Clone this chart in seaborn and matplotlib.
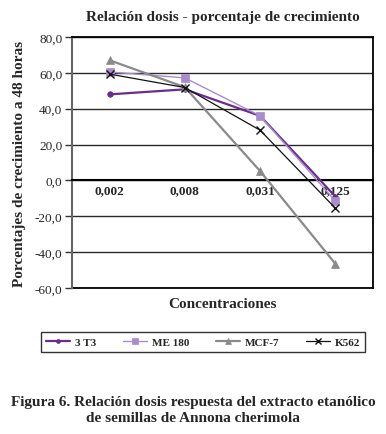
import matplotlib
matplotlib.use("Agg")
import matplotlib.pyplot as plt
import seaborn as sns
import pandas as pd
import numpy as np

categories = ["0,002", "0,008", "0,031", "0,125"]
series_names = ["3 T3", "ME 180", "MCF-7", "K562"]
v_3t3 = [48.0, 50.8, 36.0, -9.0]
v_me180 = [60.5, 57.2, 36.0, -11.5]
v_mcf7 = [67.0, 52.0, 5.2, -46.5]
v_k562 = [59.3, 51.8, 28.0, -15.5]
y_ticks = [80, 60, 40, 20, 0, -20, -40, -60]

sns.set_theme(style="white")
plt.rcParams['font.family'] = ['Liberation Serif', 'DejaVu Serif']

rows = []
for name, vals in zip(series_names, [v_3t3, v_me180, v_mcf7, v_k562]):
    for i, (c, v) in enumerate(zip(categories, vals)):
        rows.append({"serie": name, "pos": i, "conc": c, "valor": v})
df = pd.DataFrame(rows)

styles = {
    "3 T3": dict(color="#6a2c8e", marker="o", ms=4.0, lw=1.6),
    "ME 180": dict(color="#a88ccc", marker="s", ms=6.0, lw=1.0),
    "MCF-7": dict(color="#8a8a8a", marker="^", ms=6.0, lw=1.6),
    "K562": dict(color="#111111", marker="x", ms=5.5, lw=0.9),
}

fig = plt.figure(figsize=(3.86, 4.35), dpi=100)
ax = fig.add_axes([72/386, 1-289/435, (373-72)/386, (289-38)/435])

for name in series_names:
    st = styles[name]
    sub = df[df["serie"] == name]
    sns.lineplot(data=sub, x="pos", y="valor", ax=ax, color=st["color"],
                 marker=st["marker"], markersize=st["ms"], linewidth=st["lw"],
                 markeredgecolor=st["color"], markeredgewidth=1.0 if st["marker"] == "x" else 0.5,
                 label=name, zorder=3)

ax.set_xlim(-0.5, 3.5)
ax.set_ylim(-60, 80)
ax.set_yticks(y_ticks)
ax.set_yticklabels([f"{t:.1f}".replace(".", ",") for t in y_ticks], fontsize=9.5)
for t in y_ticks:
    ax.axhline(t, color="#2a2a2a", lw=1.0, zorder=1)

# x axis at zero
ax.spines['bottom'].set_position(('data', 0))
ax.spines['bottom'].set_linewidth(1.5)
ax.spines['bottom'].set_color('black')
ax.axhline(-60, color="black", lw=1.3, zorder=2, clip_on=False)
ax.spines['top'].set_color('black')
ax.spines['top'].set_linewidth(1.3)
ax.spines['right'].set_color('black')
ax.spines['right'].set_linewidth(1.3)
ax.spines['left'].set_color('#666666')
ax.spines['left'].set_linewidth(1.5)

ax.set_xticks([-0.5, 0.5, 1.5, 2.5, 3.5])
ax.set_xticklabels([])
ax.set_xticks(range(len(categories)), minor=True)
ax.set_xticklabels(categories, minor=True, fontsize=9.5, fontweight='bold')
ax.tick_params(axis='x', which='major', direction='out', length=4, width=1.2, color='black')
ax.tick_params(axis='x', which='minor', length=0, pad=3)
ax.tick_params(axis='y', direction='out', length=5, width=1.0, color='#333333', pad=2, left=True)

ax.set_xlabel("")
ax.set_ylabel("Porcentajes de crecimiento a 48 horas", fontsize=11, fontweight='bold', labelpad=6)
ax.set_title("Relación dosis - porcentaje de crecimiento", fontsize=11, fontweight='bold', pad=12)
fig.text(222/386, 1-305/435, "Concentraciones", ha='center', va='center', fontsize=11, fontweight='bold')

handles, labels = ax.get_legend_handles_labels()
ax.get_legend().remove()
leg = fig.legend(handles, labels, loc='center', bbox_to_anchor=(203/386, 1-343/435), ncol=4,
                 frameon=True, fancybox=False, edgecolor='black',
                 prop={'weight': 'bold', 'size': 8}, handlelength=2.2, columnspacing=2.4,
                 handletextpad=0.4, borderpad=0.45, markerscale=0.7)
leg.get_frame().set_linewidth(1.0)

fig.text(0.5, 1-411/435, "Figura 6. Relación dosis respuesta del extracto etanólico\nde semillas de Annona cherimola",
         ha='center', va='center', fontsize=11, fontweight='bold', linespacing=1.3)

fig.savefig("out.png", dpi=100)
